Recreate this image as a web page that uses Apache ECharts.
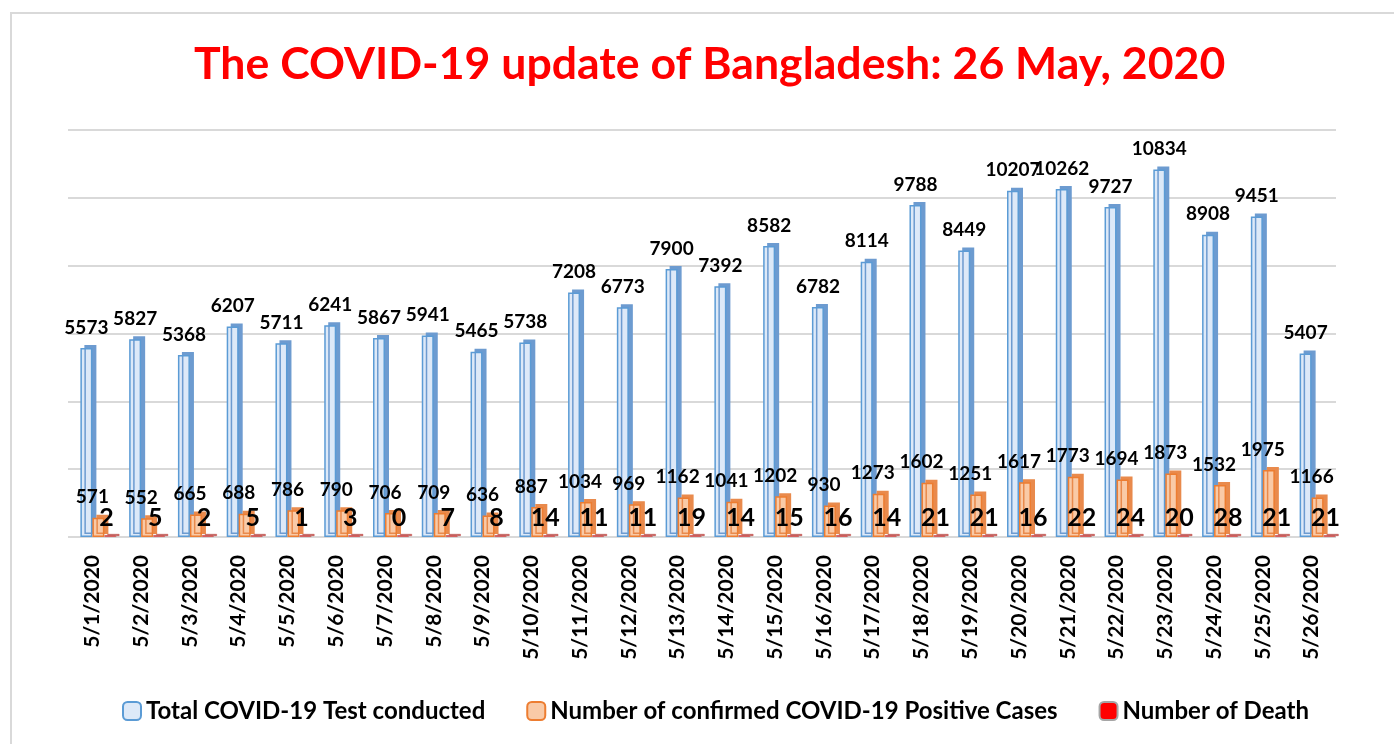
<!DOCTYPE html>
<html>
<head>
<meta charset="utf-8">
<script src="https://cdn.jsdelivr.net/npm/echarts@6/dist/echarts.min.js"></script>
<style>
html,body{margin:0;padding:0;background:#fff;overflow:hidden;}
#frame{position:absolute;left:10px;top:12px;width:1400px;height:740px;border-left:2px solid #d9d9d9;border-top:2px solid #d9d9d9;}
#chart{position:absolute;left:0;top:0;width:1394px;height:744px;}
</style>
</head>
<body>
<div id="frame"></div>
<div id="chart"></div>
<script>
const categories = ['5/1/2020','5/2/2020','5/3/2020','5/4/2020','5/5/2020','5/6/2020','5/7/2020','5/8/2020','5/9/2020','5/10/2020','5/11/2020','5/12/2020','5/13/2020','5/14/2020','5/15/2020','5/16/2020','5/17/2020','5/18/2020','5/19/2020','5/20/2020','5/21/2020','5/22/2020','5/23/2020','5/24/2020','5/25/2020','5/26/2020'];
const testsConducted = [5573,5827,5368,6207,5711,6241,5867,5941,5465,5738,7208,6773,7900,7392,8582,6782,8114,9788,8449,10207,10262,9727,10834,8908,9451,5407];
const positiveCases = [571,552,665,688,786,790,706,709,636,887,1034,969,1162,1041,1202,930,1273,1602,1251,1617,1773,1694,1873,1532,1975,1166];
const deaths = [2,5,2,5,1,3,0,7,8,14,11,11,19,14,15,16,14,21,21,16,22,24,20,28,21,21];
const seriesNames = ['Total COVID-19 Test conducted','Number of confirmed COVID-19 Positive Cases','Number of Death'];

const FONT = 'Lato';
const chart = echarts.init(document.getElementById('chart'));
chart.setOption({
  animation: false,
  title: {
    text: 'The COVID-19 update of Bangladesh: 26 May, 2020',
    left: 189, top: 37,
    textStyle: {color: '#ff0000', fontFamily: FONT, fontWeight: 'bold', fontSize: 44.6}
  },
  legend: {
    data: seriesNames,
    bottom: 16, left: 117,
    itemWidth: 18, itemHeight: 18, itemGap: 41,
    textStyle: {fontFamily: FONT, fontWeight: 'bold', fontSize: 24, color: '#000'}
  },
  grid: {left: 68, right: 58, top: 130, bottom: 207, containLabel: false},
  xAxis: {
    type: 'category', data: categories,
    axisLine: {show: false}, axisTick: {show: false},
    axisLabel: {rotate: 90, margin: 18, fontFamily: FONT, fontWeight: 'bold', fontSize: 21, color: '#000'}
  },
  yAxis: {
    type: 'value', min: 0, max: 12000, interval: 2000,
    axisLabel: {show: false}, axisLine: {show: false}, axisTick: {show: false},
    splitLine: {lineStyle: {color: '#d9d9d9', width: 2}}
  },
  series: [
    {name: '', type: 'bar', data: [], barWidth: 12, barGap: '0%', silent: true},
    {
      name: seriesNames[0], type: 'bar', data: testsConducted, barWidth: 12, barGap: '0%',
      itemStyle: {color: '#dde9f8', borderColor: '#5b9bd5', borderWidth: 1.5, shadowColor: '#6d9bd0', shadowOffsetX: 4, shadowOffsetY: -3, shadowBlur: 0},
      label: {show: true, position: 'top', distance: 11, fontFamily: FONT, fontWeight: 'bold', fontSize: 19, color: '#000'}
    },
    {
      name: seriesNames[1], type: 'bar', data: positiveCases, barWidth: 12, barGap: '0%',
      itemStyle: {color: '#f9caa7', borderColor: '#ed7d31', borderWidth: 1.5, shadowColor: '#e98a4c', shadowOffsetX: 4, shadowOffsetY: -3, shadowBlur: 0},
      label: {show: true, position: 'top', distance: 11, offset: [-6, 0], fontFamily: FONT, fontWeight: 'bold', fontSize: 19, color: '#000'}
    },
    {
      name: seriesNames[2], type: 'bar', data: deaths, barWidth: 12, barGap: '0%', barMinHeight: 2,
      itemStyle: {color: '#ff0000', borderColor: '#a6a6a6', borderWidth: 0.5, shadowColor: '#c0504d', shadowOffsetX: 3, shadowOffsetY: -1, shadowBlur: 0},
      label: {show: true, position: 'top', distance: 5, offset: [-4, 0], fontFamily: FONT, fontWeight: 'bold', fontSize: 25, color: '#000'}
    }
  ]
});
</script>
</body>
</html>
